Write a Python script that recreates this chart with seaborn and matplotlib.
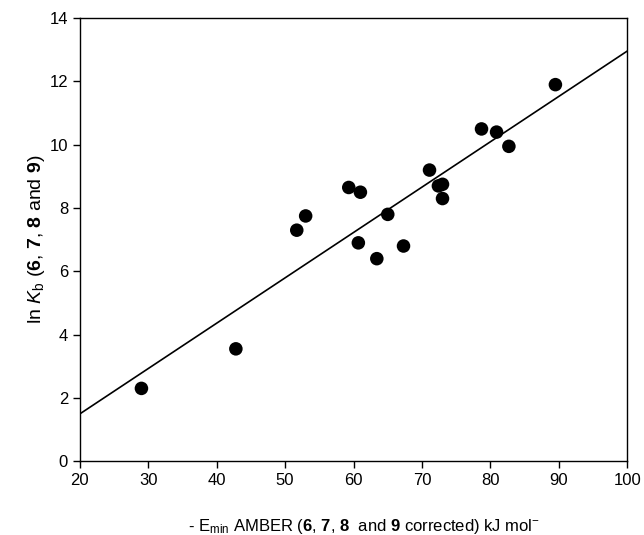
import matplotlib
matplotlib.use("Agg")
import matplotlib.pyplot as plt
import seaborn as sns
import pandas as pd

energy = [29.0, 42.8, 51.7, 53.0, 59.3, 61.0, 60.7, 63.4, 65.0, 67.3,
          71.1, 72.4, 73.0, 73.0, 78.7, 80.9, 82.7, 89.5]
ln_kb = [2.3, 3.55, 7.3, 7.75, 8.65, 8.5, 6.9, 6.4, 7.8, 6.8,
         9.2, 8.7, 8.75, 8.3, 10.5, 10.4, 9.95, 11.9]
x_ticks = [20, 30, 40, 50, 60, 70, 80, 90, 100]
y_ticks = [0, 2, 4, 6, 8, 10, 12, 14]

df = pd.DataFrame({"energy": energy, "lnkb": ln_kb})

sns.set_style("ticks")
plt.rcParams["font.family"] = ["Liberation Sans", "DejaVu Sans"]
plt.rcParams["mathtext.fontset"] = "custom"
plt.rcParams["mathtext.rm"] = "Liberation Sans"
plt.rcParams["mathtext.bf"] = "Liberation Sans:bold"
plt.rcParams["mathtext.it"] = "Liberation Sans:italic"
plt.rcParams["text.color"] = "black"
plt.rcParams["axes.labelcolor"] = "black"

fig = plt.figure(figsize=(6.44, 5.35), dpi=100)
ax = fig.add_axes([0.124, 0.138, 0.850, 0.828])
ax.set_xlim(20, 100)
ax.set_ylim(0, 14)

sns.regplot(data=df, x="energy", y="lnkb", ax=ax, ci=None, truncate=False,
            scatter_kws=dict(s=95, color="black", alpha=1, edgecolor="none", zorder=3),
            line_kws=dict(color="black", lw=1.2))

ax.set_xlim(20, 100)
ax.set_ylim(0, 14)
ax.set_xticks(x_ticks)
ax.set_yticks(y_ticks)
ax.tick_params(direction="out", length=5, width=1, labelsize=12, colors="black")
for sp in ax.spines.values():
    sp.set_visible(True)
    sp.set_linewidth(1)
    sp.set_color("black")

ax.set_xlabel(r"- E$_{\mathrm{min}}$ AMBER ($\mathbf{6}$, $\mathbf{7}$, $\mathbf{8}$  and $\mathbf{9}$ corrected) kJ mol$^{\mathrm{-}}$",
              fontsize=12, labelpad=16)
ax.set_ylabel(r"ln $K_{\mathrm{b}}$ ($\mathbf{6}$, $\mathbf{7}$, $\mathbf{8}$ and $\mathbf{9}$)",
              fontsize=14, labelpad=2)
ax.xaxis.set_label_coords(0.52, -0.125)

fig.savefig("out.png", dpi=100)
